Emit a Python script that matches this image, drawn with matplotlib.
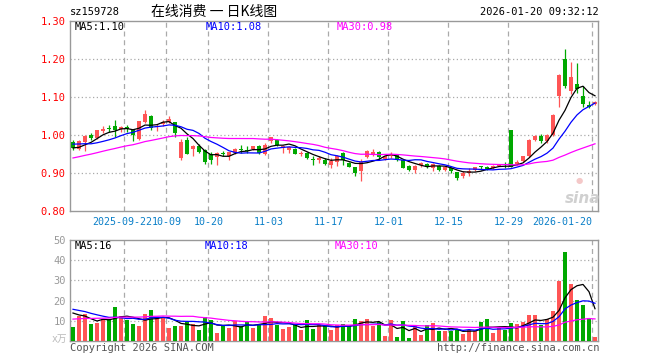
import matplotlib
matplotlib.use("Agg")
import matplotlib.pyplot as plt
import pandas as pd

# trading days shown on the chart (2025-09-09 .. 2026-01-20)
days = (['2025-09-%02d' % d for d in [9, 10, 11, 12, 15, 16, 17, 18, 19, 22, 23, 24, 25, 26, 29, 30]]
        + ['2025-10-%02d' % d for d in [9, 10, 13, 14, 15, 16, 17, 20, 21, 22, 23, 24, 27, 28, 29, 30, 31]]
        + ['2025-11-%02d' % d for d in [3, 4, 5, 6, 7, 10, 11, 12, 13, 14, 17, 18, 19, 20, 21, 24, 25, 26, 27, 28]]
        + ['2025-12-%02d' % d for d in [1, 2, 3, 4, 5, 8, 9, 10, 11, 12, 15, 16, 17, 18, 19, 22, 23, 24, 25, 26, 29, 30, 31]]
        + ['2026-01-%02d' % d for d in [5, 6, 7, 8, 9, 12, 13, 14, 15, 16, 19, 20]])

tick_days = ['2025-09-22', '2025-10-09', '2025-10-20', '2025-11-03', '2025-11-17',
             '2025-12-01', '2025-12-15', '2025-12-29', '2026-01-20']
tick_labels = ['2025-09-22', '10-09', '10-20', '11-03', '11-17', '12-01', '12-15', '12-29', '2026-01-20']

opens = [0.981, 0.964, 0.981, 1.001, 0.992, 1.011, 1.018, 1.024, 1.016, 1.019,
         1.014, 0.989, 1.034, 1.051, 1.021, 1.029, 1.034, 1.034, 0.939, 0.988,
         0.963, 0.972, 0.961, 0.950, 0.942, 0.953, 0.944, 0.953, 0.964, 0.961,
         0.963, 0.970, 0.950, 0.983, 0.986, 0.966, 0.961, 0.964, 0.950, 0.953,
         0.938, 0.935, 0.935, 0.922, 0.928, 0.953, 0.926, 0.916, 0.904, 0.941,
         0.951, 0.954, 0.937, 0.944, 0.948, 0.933, 0.919, 0.907, 0.922, 0.924,
         0.913, 0.919, 0.907, 0.913, 0.902, 0.891, 0.901, 0.907, 0.919, 0.917,
         0.913, 0.919, 0.922, 1.014, 0.925, 0.931, 0.944, 0.986, 0.998, 0.983,
         1.001, 1.103, 1.200, 1.117, 1.135, 1.103, 1.080, 1.082]
highs = [0.988, 0.988, 0.999, 1.005, 1.013, 1.023, 1.027, 1.040, 1.024, 1.027,
         1.016, 1.037, 1.065, 1.052, 1.030, 1.040, 1.051, 1.035, 0.990, 0.995,
         0.973, 0.977, 0.962, 0.955, 0.955, 0.959, 0.956, 0.965, 0.974, 0.970,
         0.972, 0.973, 0.979, 0.996, 0.990, 0.973, 0.970, 0.965, 0.957, 0.955,
         0.944, 0.944, 0.939, 0.939, 0.948, 0.954, 0.928, 0.917, 0.937, 0.961,
         0.963, 0.958, 0.946, 0.956, 0.950, 0.935, 0.921, 0.920, 0.928, 0.926,
         0.926, 0.921, 0.918, 0.915, 0.903, 0.904, 0.914, 0.917, 0.919, 0.918,
         0.920, 0.925, 0.928, 1.014, 0.933, 0.946, 0.989, 1.001, 1.003, 1.002,
         1.054, 1.160, 1.225, 1.193, 1.189, 1.128, 1.090, 1.090]
lows = [0.961, 0.961, 0.957, 0.988, 0.990, 1.005, 1.007, 0.996, 1.007, 1.009,
        0.983, 0.988, 1.032, 1.014, 1.010, 1.023, 1.032, 0.996, 0.935, 0.949,
        0.944, 0.952, 0.925, 0.923, 0.922, 0.944, 0.933, 0.951, 0.953, 0.953,
        0.961, 0.950, 0.948, 0.979, 0.970, 0.953, 0.953, 0.950, 0.944, 0.937,
        0.922, 0.926, 0.922, 0.913, 0.919, 0.922, 0.915, 0.893, 0.878, 0.939,
        0.944, 0.935, 0.933, 0.940, 0.932, 0.912, 0.905, 0.900, 0.915, 0.913,
        0.904, 0.906, 0.904, 0.900, 0.882, 0.887, 0.893, 0.905, 0.907, 0.908,
        0.911, 0.918, 0.913, 0.917, 0.920, 0.930, 0.943, 0.983, 0.979, 0.979,
        0.998, 1.075, 1.124, 1.109, 1.110, 1.075, 1.071, 1.080]
closes = [0.967, 0.983, 0.998, 0.992, 1.012, 1.017, 1.016, 1.014, 1.021, 1.017,
          1.001, 1.036, 1.056, 1.018, 1.025, 1.034, 1.043, 1.005, 0.982, 0.951,
          0.972, 0.955, 0.929, 0.933, 0.953, 0.950, 0.955, 0.964, 0.960, 0.959,
          0.970, 0.953, 0.974, 0.995, 0.974, 0.970, 0.968, 0.951, 0.952, 0.939,
          0.934, 0.939, 0.924, 0.931, 0.946, 0.933, 0.917, 0.900, 0.928, 0.957,
          0.954, 0.941, 0.944, 0.948, 0.935, 0.914, 0.909, 0.919, 0.925, 0.916,
          0.924, 0.909, 0.916, 0.904, 0.887, 0.900, 0.905, 0.916, 0.916, 0.910,
          0.919, 0.924, 0.920, 0.917, 0.928, 0.944, 0.988, 0.998, 0.983, 1.001,
          1.053, 1.159, 1.128, 1.153, 1.121, 1.081, 1.075, 1.086]
volumes = [6.8, 12.3, 13.3, 8.3, 8.8, 11.0, 11.0, 16.8, 12.4, 10.3,
           8.3, 7.3, 13.3, 15.3, 11.3, 11.3, 6.3, 7.3, 7.3, 9.3,
           8.3, 5.3, 11.8, 10.3, 3.8, 7.3, 6.3, 9.8, 7.3, 9.3,
           6.3, 8.3, 12.3, 11.3, 7.8, 5.8, 6.8, 7.8, 5.3, 10.3,
           5.8, 8.0, 7.6, 5.3, 7.8, 8.3, 7.3, 10.8, 10.0, 10.8,
           7.3, 9.3, 2.3, 10.3, 1.8, 10.0, 1.3, 7.8, 2.8, 7.8,
           8.8, 4.8, 4.8, 4.8, 5.8, 3.7, 5.3, 5.0, 9.3, 10.8,
           3.8, 6.3, 5.3, 8.8, 8.3, 9.3, 12.8, 12.8, 7.7, 10.8,
           14.8, 29.5, 44.0, 28.0, 20.5, 18.0, 11.5, 1.9]

# closes / volumes before the visible window (only used to start the moving averages)
prior_closes = [0.885, 0.890, 0.895, 0.900, 0.898, 0.905, 0.910, 0.908, 0.915, 0.920,
                0.918, 0.925, 0.930, 0.928, 0.935, 0.940, 0.945, 0.950, 0.960, 0.970,
                0.980, 0.990, 0.995, 0.985, 0.980, 0.975, 0.965, 0.960, 0.963]
prior_volumes = [7, 9, 8, 6, 10, 8, 7, 9, 11, 8, 7, 9, 8, 10, 7, 9, 8, 10, 8, 9,
                 18, 19, 17, 16, 17.75, 17, 16, 15, 14.4]

RED = '#ff5555'
GREEN = '#00a800'
GRID = '#aaaaaa'
MONO = ['DejaVu Sans Mono', 'Noto Sans CJK SC']

n = len(days)
x = list(range(n))
tick_pos = [days.index(d) - 0.45 for d in tick_days]

c_all = pd.Series(prior_closes + closes)
v_all = pd.Series(prior_volumes + volumes)
ma_cols = [(5, 'black'), (10, '#0000ff'), (30, '#ff00ff')]

W, H = 660, 360
L, R = 70, 598
fig = plt.figure(figsize=(6.6, 3.6), dpi=100)
ax = fig.add_axes([L / W, 1 - 211 / H, (R - L) / W, 190 / H])
axv = fig.add_axes([L / W, 1 - 341 / H, (R - L) / W, 101 / H])

colors = [RED if c >= o else GREEN for o, c in zip(opens, closes)]

# candles
ax.vlines(x, lows, highs, colors=colors, lw=0.9, zorder=3)
bottoms = [min(o, c) for o, c in zip(opens, closes)]
heights = [max(abs(c - o), 0.0028) for o, c in zip(opens, closes)]
ax.bar(x, heights, bottom=bottoms, width=0.75, color=colors, zorder=4, linewidth=0)
for win, col in ma_cols:
    ma = c_all.rolling(win).mean().iloc[-n:].values
    ax.plot(x, ma, color=col, lw=0.9, zorder=5)

# volume
axv.bar(x, volumes, width=0.76, color=colors, linewidth=0, zorder=3)
for win, col in ma_cols:
    ma = v_all.rolling(win).mean().iloc[-n:].values
    axv.plot(x, ma, color=col, lw=0.9, zorder=4)

for a in (ax, axv):
    a.set_xlim(-0.5, n - 0.5)
    for s in a.spines.values():
        s.set_color('#999999')
        s.set_linewidth(1)
    for p in tick_pos:
        a.axvline(p, color=GRID, lw=0.9, dashes=(4, 3), zorder=1)
    a.tick_params(length=0, pad=3)
    a.set_xticks([])

ax.set_ylim(0.80, 1.30)
yt = [0.80, 0.90, 1.00, 1.10, 1.20, 1.30]
ax.set_yticks(yt)
ax.set_yticklabels(['%.2f' % v for v in yt], color='red', fontsize=7.5, family=MONO)
for v in yt[1:-1]:
    ax.axhline(v, color=GRID, lw=0.9, dashes=(1, 2), zorder=1)

axv.set_ylim(0, 50)
vt = [10, 20, 30, 40, 50]
axv.set_yticks(vt)
axv.set_yticklabels([str(v) for v in vt], color='#999999', fontsize=7.5, family=MONO)
for v in vt[:-1]:
    axv.axhline(v, color=GRID, lw=0.9, dashes=(1, 2), zorder=1)


def px_text(px, py, s, **kw):
    kw.setdefault('family', MONO)
    kw.setdefault('fontsize', 7.5)
    fig.text(px / W, 1 - py / H, s, va='center', **kw)


# date labels under the price panel
for k, (p, lab) in enumerate(zip(tick_pos, tick_labels)):
    gx = L + (p + 0.5) * (R - L) / n
    if k == 0:
        px_text(gx + 28, 222, lab, ha='right', color='#0a7fc8', fontsize=7.2)
    elif k == len(tick_labels) - 1:
        px_text(gx, 222, lab, ha='right', color='#0a7fc8', fontsize=7.2)
    else:
        px_text(gx + 0.5, 222, lab, ha='center', color='#0a7fc8', fontsize=7.2)

px_text(70, 12, 'sz159728', color='black')
px_text(151, 12, '在线消费 一 日K线图', color='black', family=['Noto Sans CJK SC', 'DejaVu Sans'], fontsize=10)
px_text(599, 12, '2026-01-20 09:32:12', color='black', ha='right')

px_text(75, 27, 'MA5:1.10', color='black')
px_text(206, 27, 'MA10:1.08', color='#0000ff')
px_text(337, 27, 'MA30:0.98', color='#ff00ff')

px_text(75, 246, 'MA5:16', color='black')
px_text(205, 246, 'MA10:18', color='#0000ff')
px_text(335, 246, 'MA30:10', color='#ff00ff')

px_text(67, 339, 'x万', color='#bbbbbb', ha='right', fontsize=7)
px_text(70, 348, 'Copyright 2026 SINA.COM', color='#555555')
px_text(600, 348, 'http://finance.sina.com.cn', color='#555555', ha='right')

# faint sina watermark
px_text(565, 198, 'sina', color='#d0d0d0', family='DejaVu Sans', fontsize=11,
        fontweight='bold', style='italic')
px_text(576, 181, '●', color='#f4c8c8', family='DejaVu Sans', fontsize=6)

fig.savefig('out.png', dpi=100, facecolor='white')
